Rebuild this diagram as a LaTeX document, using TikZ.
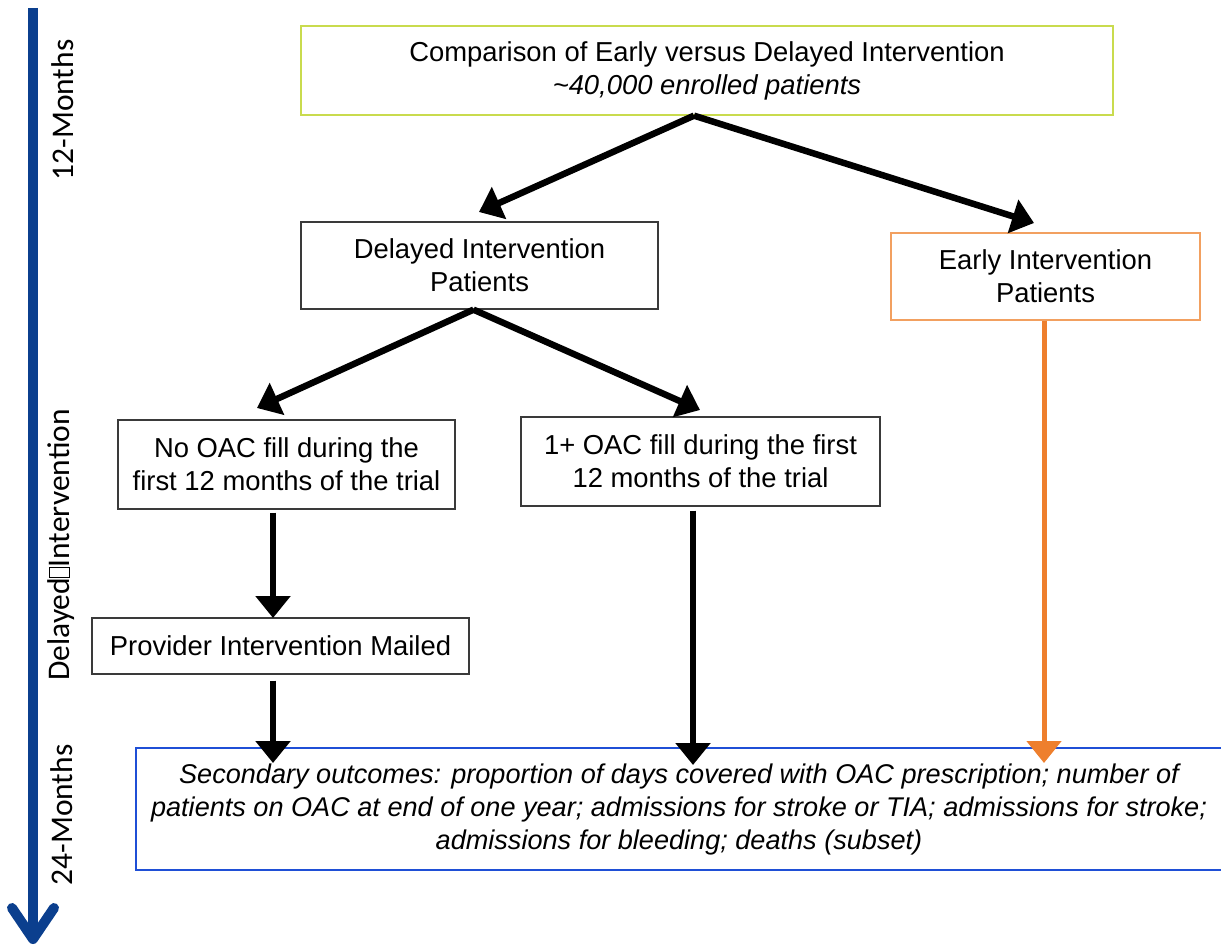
\documentclass[tikz,border=0pt]{standalone}
\usepackage{fontspec}
\setmainfont{Liberation Sans}
\newfontfamily\calibrifont{Carlito}
\usetikzlibrary{arrows.meta,calc}
\definecolor{axisblue}{HTML}{0B3F8E}
\definecolor{limegreen}{HTML}{C9DB4E}
\definecolor{boxorange}{HTML}{F2A060}
\definecolor{arroworange}{HTML}{EE7F2D}
\definecolor{outblue}{HTML}{1F4FD6}
\definecolor{boxgray}{HTML}{3A3A3A}
\begin{document}
\begin{tikzpicture}[x=1pt,y=-1pt,
  box/.style={draw=boxgray,line width=1.3pt,fill=white,align=center,inner sep=0pt,
    font=\fontsize{27.4}{33}\selectfont},
  flow/.style={line width=6.5pt,-{Triangle[width=34pt,length=22pt]}},
  axislabel/.style={rotate=90,font=\calibrifont\fontsize{31.5}{36}\selectfont,inner sep=0pt}]
\useasboundingbox (0,0) rectangle (1221,947);
% time axis
\draw[axisblue,line width=10pt] (33,8) -- (33,940);
\draw[axisblue,line width=10pt,line cap=round,line join=round] (12,908) -- (33,939) -- (54,908);
\node[axislabel] (m12) at (63,110) {12-Months};
\node[axislabel] (mdel) at (61,545) {Delayed\fboxsep=0pt\fboxrule=0.9pt\fbox{\rule{0pt}{0.62em}\hspace{0.28em}}Intervention};
\node[axislabel] (m24) at (62,815) {24-Months};
% boxes
\node[box,draw=limegreen,minimum width=812pt,minimum height=89pt] (top) at (707,70.5)
  {Comparison of Early versus Delayed Intervention\\ \textit{\textasciitilde40,000 enrolled patients}};
\node[box,minimum width=357pt,minimum height=87pt] (dip) at (479.5,265.5)
  {Delayed Intervention\\Patients};
\node[box,draw=boxorange,minimum width=309pt,minimum height=87pt] (eip) at (1045.5,276.5)
  {Early Intervention\\Patients};
\node[box,minimum width=337pt,minimum height=89pt] (nooac) at (286.5,464.5)
  {No OAC fill during the\\first 12 months of the trial};
\node[box,minimum width=359pt,minimum height=89pt] (oac) at (700.5,461.5)
  {1+ OAC fill during the first\\12 months of the trial};
\node[box,minimum width=377pt,minimum height=56pt] (prov) at (280.5,646)
  {Provider Intervention Mailed};
\node[box,draw=outblue,minimum width=1086pt,minimum height=122pt,font=\itshape\fontsize{27.1}{33}\selectfont] (out) at (679,809)
  {Secondary outcomes: proportion of days covered with OAC prescription; number of\\
   patients on OAC at end of one year; admissions for stroke or TIA; admissions for stroke;\\
   admissions for bleeding; deaths (subset)};
% arrow tip coordinates
\coordinate (t1) at (479,212);
\coordinate (t2) at (1034,223);
\coordinate (t3) at (257,408);
\coordinate (t4) at (700,410);
\coordinate (t5) at (273,618);
\coordinate (t6) at (273,763);
\coordinate (t7) at (693,765);
\coordinate (t8) at (1044,763);
% connectors
\draw[flow] ([xshift=-13pt]top.south) -- (t1);
\draw[flow] ([xshift=-13pt]top.south) -- (t2);
\draw[flow] ([xshift=-6pt]dip.south) -- (t3);
\draw[flow] ([xshift=-6pt]dip.south) -- (t4);
\draw[flow] ([yshift=-3pt]nooac.south -| t5) -- (t5);
\draw[flow] ([yshift=-6pt]prov.south -| t6) -- (t6);
\draw[flow] ([yshift=-4pt]oac.south -| t7) -- (t7);
\draw[flow,arroworange,line width=5pt] (eip.south -| t8) -- (t8);
\end{tikzpicture}
\end{document}
